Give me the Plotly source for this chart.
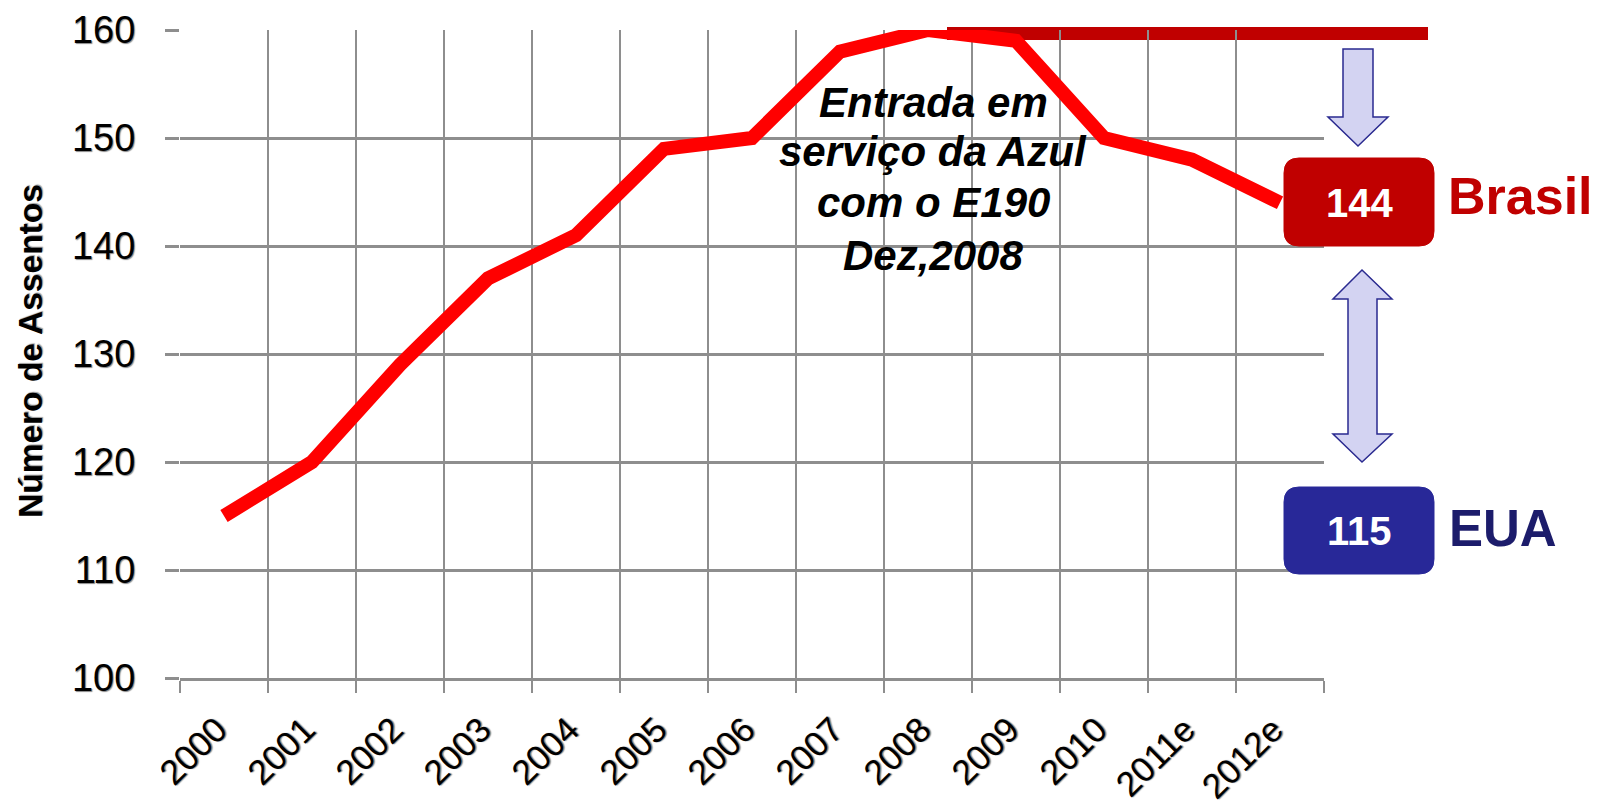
import plotly.graph_objects as go

# ---- data ----
years = ["2000", "2001", "2002", "2003", "2004", "2005", "2006",
         "2007", "2008", "2009", "2010", "2011e", "2012e"]
seats = [115, 120, 129, 137, 141, 149, 150, 158, 160, 159, 150, 148, 144]
brasil_value = 144
eua_value = 115
y_ticks = [100, 110, 120, 130, 140, 150, 160]
note_lines = ["Entrada em", "serviço da Azul", "com o E190", "Dez,2008"]

# ---- layout geometry (screen pixels) ----
OFF = 8                      # default page body margin
W, H = 1603 - OFF, 808 - OFF  # figure size
PLOT_L, PLOT_R, PLOT_T, PLOT_B = 180, 1324, 30, 678
ML = PLOT_L - OFF
MT = PLOT_T - OFF
MR = W - (PLOT_R - OFF)
MB = H - (PLOT_B - OFF)


def xp(px):
    return (px - PLOT_L) / (PLOT_R - PLOT_L)


def yp(py):
    return (PLOT_B - py) / (PLOT_B - PLOT_T)


def rounded_rect(x0, y0, x1, y1, r):
    pts = [
        f"M {xp(x0 + r)} {yp(y0)}",
        f"L {xp(x1 - r)} {yp(y0)}",
        f"Q {xp(x1)} {yp(y0)} {xp(x1)} {yp(y0 + r)}",
        f"L {xp(x1)} {yp(y1 - r)}",
        f"Q {xp(x1)} {yp(y1)} {xp(x1 - r)} {yp(y1)}",
        f"L {xp(x0 + r)} {yp(y1)}",
        f"Q {xp(x0)} {yp(y1)} {xp(x0)} {yp(y1 - r)}",
        f"L {xp(x0)} {yp(y0 + r)}",
        f"Q {xp(x0)} {yp(y0)} {xp(x0 + r)} {yp(y0)}",
        "Z",
    ]
    return " ".join(pts)


def poly(points):
    s = " ".join(("M" if i == 0 else "L") + f" {xp(x)} {yp(y)}" for i, (x, y) in enumerate(points))
    return s + " Z"


DARK_RED = "#C00000"
NAVY = "#282898"
GRID = "#8E8E8E"
ARROW_FILL = "#D3D3F2"
ARROW_LINE = "#2A2A90"
FONT = "Liberation Sans, Arial, sans-serif"

fig = go.Figure()
fig.add_trace(go.Scatter(
    x=years, y=seats, mode="lines",
    line=dict(color="#FF0000", width=14),
    hoverinfo="skip", showlegend=False,
))

shapes = []
# dark red reference bar at the top
shapes.append(dict(type="rect", xref="paper", yref="paper",
                   x0=xp(947), x1=xp(1428), y0=yp(40), y1=yp(27),
                   fillcolor=DARK_RED, line=dict(width=0), layer="below"))
# down arrow
shapes.append(dict(type="path", xref="paper", yref="paper",
                   path=poly([(1343, 49), (1373, 49), (1373, 117), (1388, 117),
                              (1358, 146), (1328, 117), (1343, 117)]),
                   fillcolor=ARROW_FILL, line=dict(color=ARROW_LINE, width=1.5)))
# double arrow
shapes.append(dict(type="path", xref="paper", yref="paper",
                   path=poly([(1362, 270), (1392, 299), (1377, 299), (1377, 434),
                              (1392, 434), (1362, 462), (1333, 434), (1348, 434),
                              (1348, 299), (1333, 299)]),
                   fillcolor=ARROW_FILL, line=dict(color=ARROW_LINE, width=1.5)))
# value boxes
shapes.append(dict(type="path", xref="paper", yref="paper",
                   path=rounded_rect(1284, 158, 1434, 246, 15),
                   fillcolor=DARK_RED, line=dict(color=DARK_RED, width=1)))
shapes.append(dict(type="path", xref="paper", yref="paper",
                   path=rounded_rect(1284, 487, 1434, 574, 15),
                   fillcolor=NAVY, line=dict(color=NAVY, width=1)))

annotations = [
    dict(xref="paper", yref="paper", x=xp(1359), y=yp(203),
         text=f"<b>{brasil_value}</b>", showarrow=False,
         font=dict(family=FONT, size=40, color="white"),
         xanchor="center", yanchor="middle"),
    dict(xref="paper", yref="paper", x=xp(1359), y=yp(531),
         text=f"<b>{eua_value}</b>", showarrow=False,
         font=dict(family=FONT, size=40, color="white"),
         xanchor="center", yanchor="middle"),
    dict(xref="paper", yref="paper", x=xp(1446), y=yp(196),
         text="<b>Brasil</b>", showarrow=False,
         font=dict(family=FONT, size=52, color=DARK_RED),
         xanchor="left", yanchor="middle"),
    dict(xref="paper", yref="paper", x=xp(1447), y=yp(528),
         text="<b>EUA</b>", showarrow=False,
         font=dict(family=FONT, size=51, color="#1C1C6B"),
         xanchor="left", yanchor="middle"),
    dict(xref="paper", yref="paper", x=xp(30), y=yp(351),
         text="<b>Número de Assentos</b>", textangle=-90, showarrow=False,
         font=dict(family=FONT, size=33.5, color="black", shadow="1px 1px 1px #999"),
         xanchor="center", yanchor="middle"),
]
# note text, one annotation per line
note_centers = [102, 151, 203, 255]
for line, cy in zip(note_lines, note_centers):
    annotations.append(dict(
        xref="paper", yref="paper", x=xp(933), y=yp(cy),
        text=f"<b><i>{line}</i></b>", showarrow=False,
        font=dict(family=FONT, size=42, color="black"),
        xanchor="center", yanchor="middle"))

fig.update_layout(
    width=W, height=H,
    margin=dict(l=ML, r=MR, t=MT, b=MB, autoexpand=False),
    paper_bgcolor="white", plot_bgcolor="white",
    template="none",
    showlegend=False,
    shapes=shapes,
    annotations=annotations,
    xaxis=dict(
        type="category", categoryorder="array", categoryarray=years,
        tickson="boundaries", ticks="outside", ticklen=12, tickwidth=2, tickcolor=GRID,
        showgrid=True, gridcolor=GRID, gridwidth=2,
        showline=True, linecolor=GRID, linewidth=3, mirror=False,
        tickangle=-45, automargin=False, range=[-0.5, 12.5],
        ticklabelstandoff=14, ticklabelshift=-7,
        tickfont=dict(family=FONT, size=35, color="black", shadow="1px 1px 1px #888"),
        zeroline=False,
    ),
    yaxis=dict(
        range=[100, 160], tickvals=y_ticks, ticktext=[str(v) for v in y_ticks],
        ticks="outside", ticklen=14, tickwidth=3, tickcolor=GRID,
        showgrid=True, gridcolor=GRID, gridwidth=3,
        showline=False, zeroline=False, automargin=False,
        ticklabelstandoff=22,
        tickfont=dict(family=FONT, size=38, color="black", shadow="1px 1px 1px #888"),
    ),
)

fig.write_html("out.html")
